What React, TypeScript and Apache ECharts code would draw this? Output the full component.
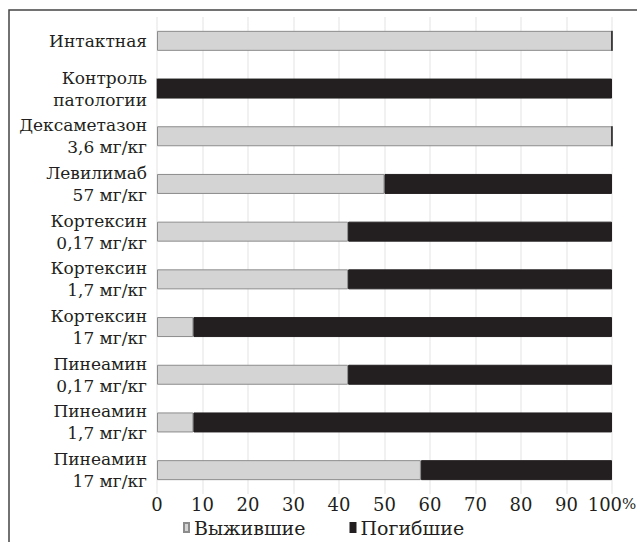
import React, { useEffect, useRef } from "react";
import * as echarts from "echarts";

const categories = [
  "Интактная",
  "Контроль\nпатологии",
  "Дексаметазон\n3,6 мг/кг",
  "Левилимаб\n57 мг/кг",
  "Кортексин\n0,17 мг/кг",
  "Кортексин\n1,7 мг/кг",
  "Кортексин\n17 мг/кг",
  "Пинеамин\n0,17 мг/кг",
  "Пинеамин\n1,7 мг/кг",
  "Пинеамин\n17 мг/кг",
];
const survived = [100, 0, 100, 50, 42, 42, 8, 42, 8, 58];
const died = [0, 100, 0, 50, 58, 58, 92, 58, 92, 42];
const seriesNames = ["Выжившие", "Погибшие"];

const FONT = "DejaVu Serif";

export default function App() {
  const ref = useRef<HTMLDivElement>(null);
  useEffect(() => {
    if (!ref.current) return;
    const chart = echarts.init(ref.current, null, { renderer: "svg" });
    chart.setOption({
      animation: false,
      backgroundColor: "#ffffff",
      textStyle: { fontFamily: FONT, color: "#231f20" },
      grid: {
        left: 157,
        right: 25,
        top: 17,
        bottom: 48,
        containLabel: false,
        outerBoundsMode: "none",
      },
      xAxis: {
        type: "value",
        min: 0,
        max: 100,
        interval: 10,
        axisLine: { show: false },
        axisTick: { show: false },
        splitLine: { show: true, lineStyle: { color: "#ededed", width: 1.5 } },
        axisLabel: {
          fontFamily: FONT,
          fontSize: 18,
          color: "#231f20",
          margin: 1,
          hideOverlap: false,
          formatter: (v: number) => (v === 100 ? "100{p|%}" : String(v)),
          rich: { p: { fontFamily: FONT, fontSize: 15, color: "#231f20" } },
        },
      },
      yAxis: {
        type: "category",
        inverse: true,
        data: categories,
        axisLine: { show: false },
        axisTick: { show: false },
        axisLabel: {
          fontFamily: FONT,
          fontSize: 17,
          lineHeight: 22,
          color: "#231f20",
          margin: 10,
          align: "right",
        },
      },
      legend: {
        top: 518,
        left: 183,
        padding: 0,
        icon: "rect",
        itemWidth: 5,
        itemHeight: 9,
        itemGap: 44,
        itemTextGap: 7,
        textStyle: { fontFamily: FONT, fontSize: 19, color: "#231f20" },
        data: seriesNames,
      },
      series: [
        {
          name: seriesNames[0],
          type: "bar",
          stack: "total",
          barWidth: 20,
          data: survived,
          itemStyle: { color: "#d4d4d4", borderColor: "#8c8c8c", borderWidth: 1 },
        },
        {
          name: seriesNames[1],
          type: "bar",
          stack: "total",
          barWidth: 20,
          data: died,
          itemStyle: { color: "#231f20", borderColor: "#231f20", borderWidth: 1 },
        },
      ],
      graphic: [
        {
          type: "rect",
          shape: { x: 9, y: 10, width: 640, height: 545 },
          style: { fill: "none", stroke: "#444", lineWidth: 1.5 },
          silent: true,
        },
      ],
    });
    return () => chart.dispose();
  }, []);
  return (
    <div
      ref={ref}
      style={{ position: "fixed", left: 0, top: 0, width: 637, height: 542 }}
    />
  );
}
